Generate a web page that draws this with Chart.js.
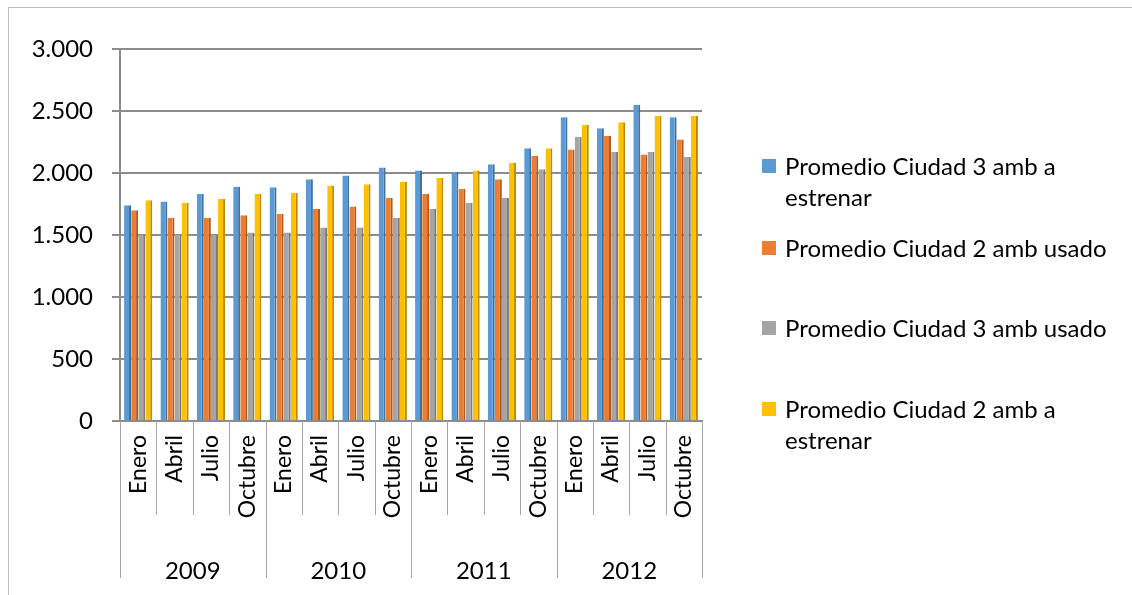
<!DOCTYPE html>
<html>
<head>
<meta charset="utf-8">
<script src="https://cdn.jsdelivr.net/npm/chart.js@4"></script>
<style>
  html, body { margin: 0; padding: 0; background: #fff; overflow: hidden; }
  #wrap { position: relative; width: 1132px; height: 595px; }
  #frame { position: absolute; left: 8px; top: 7px; width: 1200px; height: 700px; border: 1px solid #bdbdbd; }
  canvas { position: absolute; left: 0; top: 0; }
  .leg { position: absolute; left: 762px; width: 362px; font-family: Lato, sans-serif; font-size: 24px; line-height: 31px; color: #000; }
  .leg .box { position: absolute; left: 0; top: 9px; width: 14px; height: 14px; }
  .leg .txt { margin-left: 23px; }
</style>
</head>
<body>
<div id="wrap">
  <div id="frame"></div>
  <canvas id="myChart" width="1132" height="595"></canvas>
  <div id="legend"></div>
</div>
<script>
const months = ['Enero', 'Abril', 'Julio', 'Octubre']
const years = ['2009', '2010', '2011', '2012']

const nuevo3 = [1740, 1770, 1830, 1890, 1885, 1950, 1980, 2045, 2020, 2010, 2070, 2200, 2450, 2360, 2550, 2450]
const usado2 = [1700, 1640, 1640, 1660, 1670, 1710, 1730, 1800, 1830, 1870, 1950, 2140, 2190, 2300, 2150, 2270]
const usado3 = [1500, 1500, 1500, 1520, 1520, 1560, 1560, 1640, 1710, 1760, 1800, 2030, 2290, 2170, 2170, 2130]
const nuevo2 = [1780, 1760, 1790, 1830, 1840, 1900, 1910, 1930, 1960, 2020, 2080, 2200, 2390, 2410, 2460, 2460]

const seriesNames = [
    'Promedio Ciudad 3 amb a estrenar',
    'Promedio Ciudad 2 amb usado',
    'Promedio Ciudad 3 amb usado',
    'Promedio Ciudad 2 amb a estrenar'
]
const colors = ['#5b9bd5', '#ed7d31', '#a5a5a5', '#ffc000']
const sides = ['#41719c', '#ae5a21', '#7b7b7b', '#bc8c00']

let labels = []
years.forEach(y => months.forEach(m => labels.push(m)))

const fontFam = 'Lato, sans-serif'

// vertical separators of the two-level category axis
const separators = {
    id: 'separators',
    afterDraw(chart) {
        const x = chart.scales.x
        const ctx = chart.ctx
        const n = labels.length
        const step = (x.right - x.left) / n
        ctx.save()
        ctx.strokeStyle = '#a6a6a6'
        ctx.lineWidth = 1
        for (let i = 0; i <= n; i++) {
            const px = Math.round(x.left + i * step) + 0.5
            ctx.beginPath()
            ctx.moveTo(px, x.top)
            ctx.lineTo(px, i % 4 === 0 ? 578 : 515)
            ctx.stroke()
        }
        ctx.restore()
    }
}

const ctx = document.getElementById('myChart')

new Chart(ctx, {
    type: 'bar',
    data: {
        labels: labels,
        datasets: [nuevo3, usado2, usado3, nuevo2].map((d, i) => ({
            label: seriesNames[i],
            data: d,
            backgroundColor: colors[i],
            borderColor: sides[i],
            borderWidth: { top: 0, right: 2, bottom: 0, left: 0 },
            borderSkipped: false,
            categoryPercentage: 0.78,
            barPercentage: 0.98
        }))
    },
    options: {
        responsive: false,
        animation: false,
        layout: { padding: { top: 49, right: 430, left: 0, bottom: 0 } },
        plugins: {
            legend: { display: false },
            tooltip: { enabled: false }
        },
        scales: {
            y: {
                min: 0,
                max: 3000,
                afterFit: s => { s.width = 120 },
                ticks: {
                    stepSize: 500,
                    padding: 19,
                    color: '#000',
                    font: { family: fontFam, size: 24 },
                    callback: v => v.toLocaleString('es-ES', { useGrouping: 'always' })
                },
                grid: { color: '#8c8c8c', lineWidth: 2, tickLength: 8 },
                border: { color: '#8c8c8c', width: 2 }
            },
            x: {
                afterFit: s => { s.height = 104 },
                ticks: {
                    minRotation: 90,
                    maxRotation: 90,
                    padding: 6,
                    autoSkip: false,
                    color: '#000',
                    font: { family: fontFam, size: 23 }
                },
                grid: { display: false },
                border: { color: '#8c8c8c', width: 2 }
            },
            x2: {
                type: 'category',
                labels: years,
                position: 'bottom',
                offset: true,
                afterFit: s => { s.height = 70 },
                ticks: {
                    padding: 24,
                    color: '#000',
                    font: { family: fontFam, size: 24 }
                },
                grid: { display: false },
                border: { display: false }
            }
        }
    },
    plugins: [separators]
});

// legend on the right, long names wrap onto a second line
const tops = [150, 232, 312, 393]
const legend = document.getElementById('legend')
seriesNames.forEach((name, i) => {
    const item = document.createElement('div')
    item.className = 'leg'
    item.style.top = tops[i] + 'px'
    item.innerHTML = '<span class="box" style="background:' + colors[i] + '"></span><div class="txt">' + name + '</div>'
    legend.appendChild(item)
})
</script>
</body>
</html>
